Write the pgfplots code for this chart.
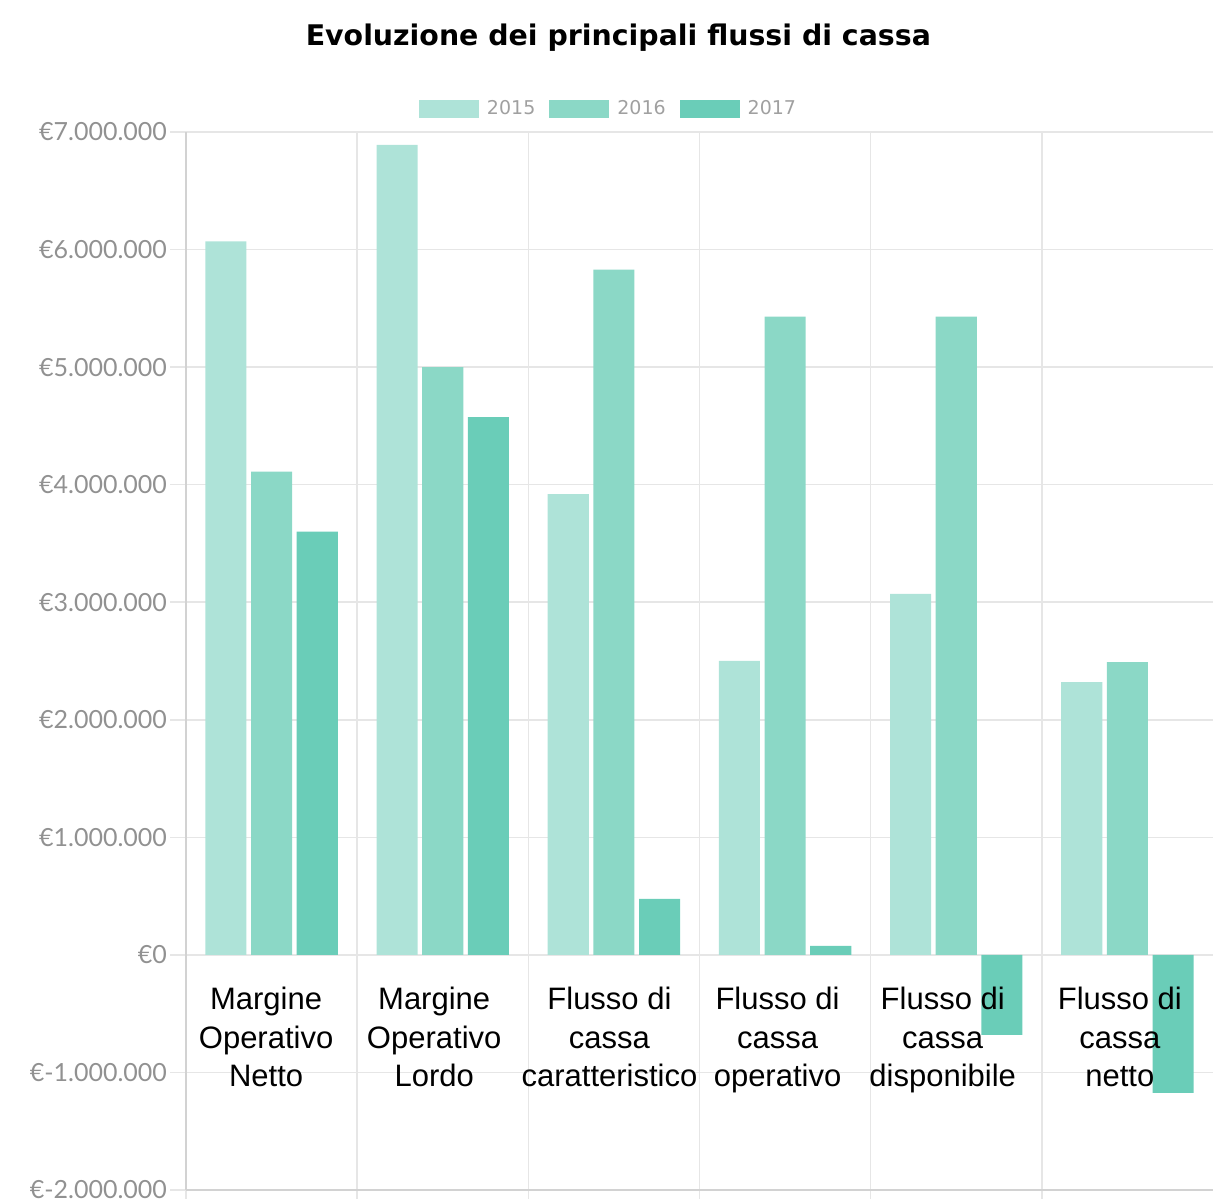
\documentclass[border=0pt]{standalone}
\usepackage{pgfplots}
\pgfplotsset{compat=1.18}
\usepackage{fontspec}
\setmainfont{Lato}
\newfontfamily\arialf{Liberation Sans}
\newfontfamily\dejavu{DejaVu Sans}
\definecolor{cA}{RGB}{174,227,216}
\definecolor{cB}{RGB}{139,216,198}
\definecolor{cC}{RGB}{106,205,184}
\definecolor{gridc}{RGB}{230,230,230}
\definecolor{axisc}{RGB}{210,210,210}
\definecolor{tickc}{RGB}{145,145,145}
\definecolor{legc}{RGB}{160,160,160}
\begin{document}
\begin{tikzpicture}
\begin{axis}[
  scale only axis,
  width=513.5pt, height=529pt,
  xmin=-0.5, xmax=5.5,
  ymin=-2000000, ymax=7000000,
  scaled y ticks=false,
  clip=false,
  axis lines*=left,
  axis line style={-, draw=axisc, line width=0.9pt},
  xtick={-0.5,0.5,1.5,2.5,3.5,4.5},
  xticklabels={},
  ytick={-2000000,-1000000,0,1000000,2000000,3000000,4000000,5000000,6000000,7000000},
  yticklabels={€-2.000.000,€-1.000.000,€0,€1.000.000,€2.000.000,€3.000.000,€4.000.000,€5.000.000,€6.000.000,€7.000.000},
  yticklabel style={font=\fontsize{12.5}{15}\selectfont, text=tickc, xshift=2pt},
  tick align=outside,
  major tick length=8pt,
  tick style={draw=gridc, line width=0.8pt},
  grid=major,
  major grid style={draw=gridc, line width=0.8pt},
  legend columns=3,
  legend style={draw=none, fill=none, at={(0.4124,1.0222)}, anchor=center,
    font=\dejavu\fontsize{9.5}{11}\selectfont, text=legc,
    /tikz/every odd column/.append style={column sep=2pt},
    /tikz/every even column/.append style={column sep=5pt}},
  legend image code/.code={\fill[#1,draw=none] (0pt,-4.5pt) rectangle (30pt,4.5pt);},
]
\addplot[ybar, bar width=0.24, bar shift=-0.2667, fill=cA, draw=none] coordinates {
  (0,6070000) (1,6890000) (2,3920000) (3,2500000) (4,3070000) (5,2320000)};
\addlegendentry{2015}
\addplot[ybar, bar width=0.24, bar shift=0, fill=cB, draw=none] coordinates {
  (0,4110000) (1,5000000) (2,5830000) (3,5430000) (4,5430000) (5,2490000)};
\addlegendentry{2016}
\addplot[ybar, bar width=0.24, bar shift=0.2667, fill=cC, draw=none] coordinates {
  (0,3600000) (1,4575000) (2,476000) (3,77000) (4,-680000) (5,-1173000)};
\addlegendentry{2017}
% title
\node[anchor=base, font=\dejavu\bfseries\fontsize{14.2}{17}\selectfont, inner sep=0pt]
  at (rel axis cs:0.421,1) [yshift=43.5pt] {Evoluzione dei principali flussi di cassa};
% category labels
\tikzset{cat/.style={anchor=base, inner sep=0pt, font=\arialf\fontsize{15.5}{19}\selectfont, text=black}}
\node[cat] at (axis cs:-0.032,0) [yshift=-27.5pt] {Margine};
\node[cat] at (axis cs:-0.032,0) [yshift=-46.75pt] {Operativo};
\node[cat] at (axis cs:-0.032,0) [yshift=-66pt] {Netto};
\node[cat] at (axis cs:0.950,0) [yshift=-27.5pt] {Margine};
\node[cat] at (axis cs:0.950,0) [yshift=-46.75pt] {Operativo};
\node[cat] at (axis cs:0.950,0) [yshift=-66pt] {Lordo};
\node[cat] at (axis cs:1.974,0) [yshift=-27.5pt] {Flusso di};
\node[cat] at (axis cs:1.974,0) [yshift=-46.75pt] {cassa};
\node[cat] at (axis cs:1.974,0) [yshift=-66pt] {caratteristico};
\node[cat] at (axis cs:2.956,0) [yshift=-27.5pt] {Flusso di};
\node[cat] at (axis cs:2.956,0) [yshift=-46.75pt] {cassa};
\node[cat] at (axis cs:2.956,0) [yshift=-66pt] {operativo};
\node[cat] at (axis cs:3.921,0) [yshift=-27.5pt] {Flusso di};
\node[cat] at (axis cs:3.921,0) [yshift=-46.75pt] {cassa};
\node[cat] at (axis cs:3.921,0) [yshift=-66pt] {disponibile};
\node[cat] at (axis cs:4.956,0) [yshift=-27.5pt] {Flusso di};
\node[cat] at (axis cs:4.956,0) [yshift=-46.75pt] {cassa};
\node[cat] at (axis cs:4.956,0) [yshift=-66pt] {netto};
\end{axis}
\pgfresetboundingbox
\useasboundingbox (-93pt,-4.5pt) rectangle (515pt,595pt);
\end{tikzpicture}
\end{document}
